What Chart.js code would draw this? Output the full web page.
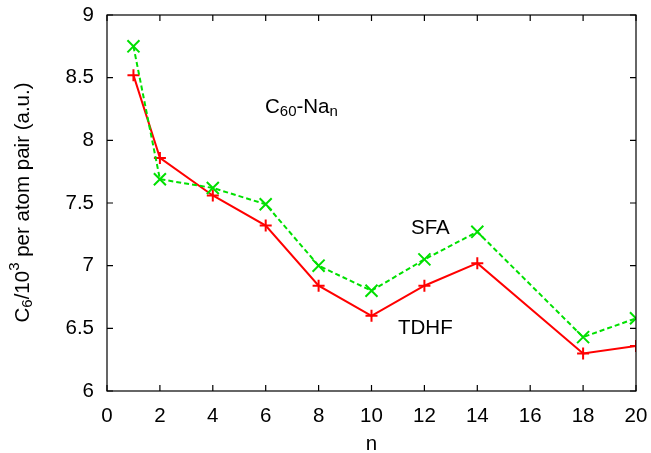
<!DOCTYPE html>
<html>
<head>
<meta charset="utf-8">
<script src="https://cdn.jsdelivr.net/npm/chart.js@4/dist/chart.umd.min.js"></script>
<style>
  html, body { margin: 0; padding: 0; background: #fff; }
  #wrap { width: 651px; height: 453px; }
</style>
</head>
<body>
<div id="wrap"><canvas id="c6Chart"></canvas></div>
<script>
const nValues = [1, 2, 4, 6, 8, 10, 12, 14, 18, 20];
const tdhf = [8.52, 7.86, 7.56, 7.32, 6.84, 6.60, 6.84, 7.02, 6.30, 6.36];
const sfa = [8.75, 7.69, 7.62, 7.49, 7.00, 6.80, 7.05, 7.27, 6.43, 6.58];
const xTicks = [0, 2, 4, 6, 8, 10, 12, 14, 16, 18, 20];
const yTicks = [6, 6.5, 7, 7.5, 8, 8.5, 9];

const FONT = '"Liberation Sans", Arial, sans-serif';
const FS = 20.5, SUB = 15;

// gnuplot-like frame: box with inward ticks on all four sides, plus labels
const framePlugin = {
    id: 'frame',
    afterDraw(chart) {
        const ctx = chart.ctx;
        const a = chart.chartArea;
        const xs = chart.scales.x, ys = chart.scales.y;
        ctx.save();
        ctx.strokeStyle = '#000';
        ctx.lineWidth = 1.2;
        ctx.strokeRect(a.left, a.top, a.right - a.left, a.bottom - a.top);
        ctx.beginPath();
        xTicks.forEach(v => {
            const px = xs.getPixelForValue(v);
            ctx.moveTo(px, a.bottom); ctx.lineTo(px, a.bottom - 6);
            ctx.moveTo(px, a.top); ctx.lineTo(px, a.top + 6);
        });
        yTicks.forEach(v => {
            const py = ys.getPixelForValue(v);
            ctx.moveTo(a.left, py); ctx.lineTo(a.left + 6, py);
            ctx.moveTo(a.right, py); ctx.lineTo(a.right - 6, py);
        });
        ctx.stroke();

        ctx.fillStyle = '#000';
        ctx.textBaseline = 'middle';
        // x title
        ctx.font = FS + 'px ' + FONT;
        ctx.textAlign = 'center';
        ctx.fillText('n', (a.left + a.right) / 2, 444);

        // y title with sub/superscript, rotated
        const parts = [
            ['C', FS, 0], ['6', SUB, 5], ['/10', FS, 0], ['3', SUB, -8],
            [' per atom pair (a.u.)', FS, 0]
        ];
        let total = 0;
        parts.forEach(p => { ctx.font = p[1] + 'px ' + FONT; total += ctx.measureText(p[0]).width; });
        ctx.translate(23, 202.5);
        ctx.rotate(-Math.PI / 2);
        ctx.textAlign = 'left';
        let x = -total / 2;
        parts.forEach(p => {
            ctx.font = p[1] + 'px ' + FONT;
            ctx.fillText(p[0], x, p[2]);
            x += ctx.measureText(p[0]).width;
        });
        ctx.setTransform(1, 0, 0, 1, 0, 0);

        // annotations
        ctx.textAlign = 'left';
        const lbl = [['C', FS, 0], ['60', SUB, 5], ['-Na', FS, 0], ['n', SUB, 5]];
        let lx = 265;
        lbl.forEach(p => {
            ctx.font = p[1] + 'px ' + FONT;
            ctx.fillText(p[0], lx, 107 + p[2]);
            lx += ctx.measureText(p[0]).width;
        });
        ctx.font = FS + 'px ' + FONT;
        ctx.fillText('SFA', 411, 228);
        ctx.fillText('TDHF', 398, 328);
        ctx.restore();
    }
};

new Chart(document.getElementById('c6Chart').getContext('2d'), {
    type: 'line',
    data: {
        datasets: [
            {
                label: 'SFA',
                data: nValues.map((n, i) => ({ x: n, y: sfa[i] })),
                borderColor: '#00e000',
                borderWidth: 2,
                borderDash: [5, 3],
                pointStyle: 'crossRot',
                pointRadius: 8.5,
                pointBorderWidth: 2,
                pointBorderColor: '#00e000',
                tension: 0
            },
            {
                label: 'TDHF',
                data: nValues.map((n, i) => ({ x: n, y: tdhf[i] })),
                borderColor: '#ff0000',
                borderWidth: 2,
                pointStyle: 'cross',
                pointRadius: 6,
                pointBorderWidth: 2,
                pointBorderColor: '#ff0000',
                tension: 0
            }
        ]
    },
    options: {
        responsive: true,
        maintainAspectRatio: false,
        animation: false,
        layout: { padding: { top: 15, right: 15, left: 0, bottom: 0 } },
        plugins: { legend: { display: false }, tooltip: { enabled: false } },
        scales: {
            x: {
                type: 'linear', min: 0, max: 20,
                grid: { display: false, drawTicks: false }, border: { display: false },
                ticks: { stepSize: 2, color: '#000', padding: 13, maxRotation: 0,
                         font: { family: FONT, size: FS } },
                afterFit: s => { s.height = 62; s.paddingLeft = 0; s.paddingRight = 0; }
            },
            y: {
                min: 6, max: 9,
                grid: { display: false, drawTicks: false }, border: { display: false },
                ticks: { stepSize: 0.5, color: '#000', padding: 13,
                         font: { family: FONT, size: FS },
                         callback: v => String(v) },
                afterFit: s => { s.width = 107; s.paddingTop = 0; s.paddingBottom = 0; }
            }
        }
    },
    plugins: [framePlugin]
});
</script>
</body>
</html>
